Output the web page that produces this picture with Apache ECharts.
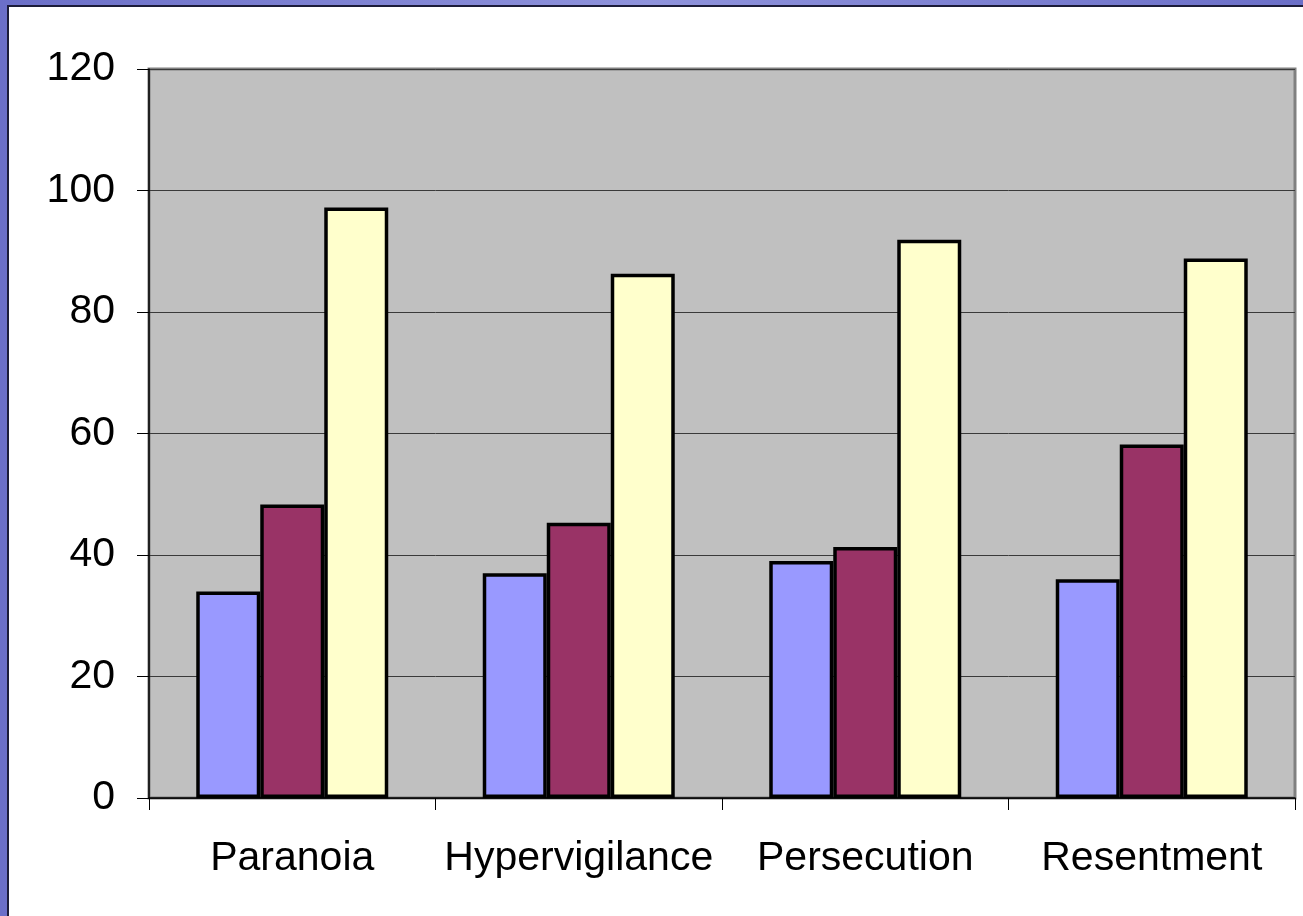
<!DOCTYPE html>
<html>
<head>
<meta charset="utf-8">
<title>Scores</title>
<script src="https://cdn.jsdelivr.net/npm/echarts@6/dist/echarts.min.js"></script>
<style>
  html, body {
    margin: 0;
    padding: 0;
    width: 1303px;
    height: 916px;
    overflow: hidden;
    background: linear-gradient(90deg, #6b6fc8 0%, #8f93dc 50%, #6b6fc8 100%);
  }
  .slide {
    position: absolute;
    left: 7px;
    top: 5px;
    right: 0;
    bottom: 0;
    background: #fff;
    border-left: 2px solid #1c1c3a;
    border-top: 2px solid #1c1c3a;
  }
  #chart {
    position: absolute;
    left: 0;
    top: 0;
    width: 1303px;
    height: 916px;
  }
</style>
</head>
<body>
<div class="slide"></div>
<div id="chart"></div>
<script>
// categories + series
const categories = ['Paranoia', 'Hypervigilance', 'Persecution', 'Resentment'];
const seriesA = [34, 37, 39, 36];
const seriesB = [48.3, 45.3, 41.3, 58.2];
const seriesC = [97.2, 86.3, 91.9, 88.8];
const colors = ['#9999FF', '#993366', '#FFFFCC'];

const myChart = echarts.init(document.getElementById('chart'), null, { renderer: 'canvas' });

const barStyle = (c) => ({
  color: c,
  borderColor: '#000',
  borderWidth: 3.5
});

const option = {
  animation: false,
  backgroundColor: 'transparent',
  textStyle: { fontFamily: 'Liberation Sans, Arial, sans-serif' },
  grid: {
    show: true,
    left: 149,
    top: 69,
    width: 1146,
    height: 729,
    backgroundColor: '#C0C0C0',
    borderColor: '#808080',
    borderWidth: 3
  },
  xAxis: {
    type: 'category',
    data: categories,
    axisLine: { lineStyle: { color: '#000', width: 1.5 } },
    axisTick: { show: true, interval: 0, length: 12, lineStyle: { color: '#000', width: 1 } },
    axisLabel: { color: '#000', fontSize: 41, margin: 40, interval: 0 }
  },
  yAxis: {
    type: 'value',
    min: 0,
    max: 120,
    interval: 20,
    axisLine: { show: true, lineStyle: { color: '#000', width: 1.5 } },
    axisTick: { show: true, length: 12, lineStyle: { color: '#000', width: 1 } },
    axisLabel: { color: '#000', fontSize: 41, margin: 34 },
    splitLine: { lineStyle: { color: '#3a3a3a', width: 1 } }
  },
  series: [
    { type: 'bar', data: seriesA, barWidth: 64, barGap: '0%', itemStyle: barStyle(colors[0]) },
    { type: 'bar', data: seriesB, barWidth: 64, barGap: '0%', itemStyle: barStyle(colors[1]) },
    { type: 'bar', data: seriesC, barWidth: 64, barGap: '0%', itemStyle: barStyle(colors[2]) }
  ]
};

myChart.setOption(option);
</script>
</body>
</html>
